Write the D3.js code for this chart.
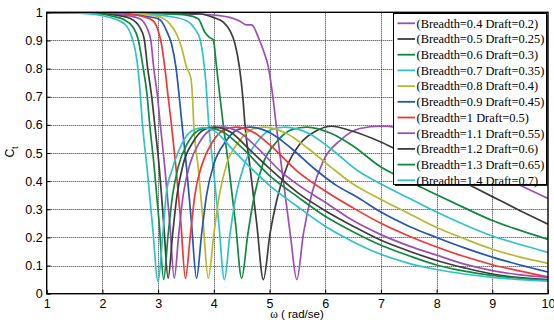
<!DOCTYPE html>
<html><head><meta charset="utf-8">
<script src="https://cdn.jsdelivr.net/npm/d3@7"></script>
<style>body{margin:0;background:#fff}svg{display:block;overflow:visible}</style>
</head><body><svg id="c" width="554" height="324"></svg>
<script>
const xTicks=[1,2,3,4,5,6,7,8,9,10];
const yTicks=[0,0.1,0.2,0.3,0.4,0.5,0.6,0.7,0.8,0.9,1];
const yTickLabels=["0","0.1","0.2","0.3","0.4","0.5","0.6","0.7","0.8","0.9","1"];
const breadths=[0.4,0.5,0.6,0.7,0.8,0.9,1,1.1,1.2,1.3,1.4];
const drafts=[0.2,0.25,0.3,0.35,0.4,0.45,0.5,0.55,0.6,0.65,0.7];
const colors=["#9b4fb3","#3d3d3d","#10893f","#2ec3c6","#b7b92e","#2456b2","#f23535","#9b4fb3","#3d3d3d","#10893f","#2ec3c6"];

// [omega, Ct] readings per series
const s04=[[1,1],[2,0.999],[3,0.997],[3.75,0.994],[4.11,0.988],[4.29,0.982],[4.47,0.968],[4.59,0.955],[4.68,0.955],[4.8,0.911],[4.89,0.864],[4.98,0.805],[5.06,0.7],[5.12,0.6],[5.25,0.4],[5.38,0.2],[5.49,0.05],[5.61,0.214],[5.76,0.356],[5.97,0.474],[6.27,0.545],[6.62,0.587],[7,0.595],[7.3,0.59],[7.7,0.565],[8,0.54],[8.5,0.485],[9,0.43],[9.62,0.374],[10,0.338]];
const s05=[[1,1],[2,0.999],[3,0.997],[3.75,0.994],[3.99,0.982],[4.17,0.965],[4.29,0.935],[4.38,0.888],[4.46,0.805],[4.52,0.7],[4.56,0.6],[4.65,0.45],[4.77,0.25],[4.89,0.05],[5.01,0.214],[5.13,0.332],[5.31,0.45],[5.55,0.533],[5.85,0.58],[6.12,0.595],[6.45,0.58],[7,0.539],[7.5,0.49],[8,0.445],[8.5,0.395],[9,0.345],[9.5,0.295],[10,0.247]];
const s06=[[1,1],[2,0.999],[3,0.995],[3.51,0.99],[3.72,0.977],[3.84,0.929],[3.92,0.911],[3.99,0.902],[4.05,0.805],[4.11,0.7],[4.17,0.6],[4.27,0.45],[4.39,0.25],[4.5,0.055],[4.61,0.21],[4.73,0.35],[4.88,0.46],[5.13,0.54],[5.4,0.583],[5.67,0.592],[6.1,0.57],[6.5,0.525],[7,0.45],[7.5,0.4],[8,0.352],[8.5,0.305],[9,0.26],[9.5,0.225],[10,0.193]];
const s07=[[1,1],[2,0.999],[2.5,0.997],[3,0.99],[3.21,0.985],[3.51,0.97],[3.66,0.941],[3.75,0.906],[3.81,0.84],[3.86,0.746],[3.91,0.6],[3.99,0.45],[4.09,0.25],[4.19,0.05],[4.29,0.21],[4.4,0.35],[4.55,0.46],[4.78,0.54],[5.03,0.583],[5.28,0.592],[5.7,0.57],[6.1,0.515],[6.6,0.435],[7,0.39],[7.5,0.34],[8,0.29],[8.5,0.245],[9,0.205],[9.5,0.175],[10,0.147]];
const s08=[[1,1],[2,0.999],[2.5,0.996],[3,0.985],[3.21,0.959],[3.33,0.923],[3.42,0.876],[3.51,0.805],[3.59,0.764],[3.62,0.687],[3.64,0.6],[3.72,0.45],[3.81,0.25],[3.9,0.055],[4,0.21],[4.1,0.35],[4.23,0.46],[4.45,0.54],[4.68,0.583],[4.91,0.592],[5.3,0.57],[5.7,0.515],[6.1,0.45],[6.5,0.39],[7,0.335],[7.5,0.285],[8,0.235],[8.5,0.195],[9,0.158],[9.5,0.13],[10,0.108]];
const s09=[[1,1],[2,0.998],[2.5,0.993],[2.8,0.985],[3,0.977],[3.06,0.968],[3.15,0.935],[3.24,0.888],[3.32,0.805],[3.38,0.7],[3.43,0.6],[3.51,0.45],[3.6,0.25],[3.69,0.055],[3.78,0.21],[3.87,0.35],[4,0.46],[4.21,0.54],[4.43,0.583],[4.65,0.592],[5,0.573],[5.4,0.515],[5.8,0.445],[6.2,0.385],[6.6,0.34],[7,0.29],[7.5,0.24],[8,0.2],[8.5,0.163],[9,0.13],[9.5,0.102],[10,0.077]];
const s10=[[1,1],[1.5,0.999],[2,0.997],[2.5,0.992],[2.73,0.985],[2.91,0.97],[3,0.935],[3.06,0.888],[3.12,0.805],[3.18,0.7],[3.24,0.6],[3.32,0.45],[3.41,0.25],[3.49,0.055],[3.58,0.21],[3.66,0.35],[3.79,0.46],[3.98,0.54],[4.19,0.583],[4.4,0.592],[4.7,0.575],[5,0.53],[5.5,0.435],[6,0.365],[6.5,0.305],[7,0.25],[7.5,0.205],[8,0.166],[8.5,0.132],[9,0.103],[9.5,0.08],[10,0.06]];
const s11=[[1,1],[1.5,0.999],[2,0.996],[2.4,0.99],[2.67,0.977],[2.82,0.935],[2.87,0.9],[2.92,0.805],[2.99,0.7],[3.04,0.6],[3.12,0.45],[3.21,0.25],[3.29,0.055],[3.37,0.21],[3.45,0.35],[3.57,0.46],[3.75,0.54],[3.95,0.583],[4.15,0.592],[4.45,0.575],[4.8,0.515],[5.2,0.435],[5.6,0.375],[6,0.325],[6.5,0.26],[7,0.21],[7.5,0.17],[8,0.137],[8.5,0.105],[9,0.082],[9.5,0.067],[10,0.058]];
const s12=[[1,1],[1.5,0.999],[2,0.995],[2.3,0.988],[2.5,0.978],[2.67,0.947],[2.75,0.906],[2.81,0.805],[2.885,0.7],[2.94,0.6],[3.02,0.45],[3.1,0.25],[3.18,0.055],[3.26,0.21],[3.34,0.35],[3.45,0.46],[3.63,0.54],[3.82,0.583],[4,0.592],[4.3,0.575],[4.6,0.52],[5,0.445],[5.5,0.36],[6,0.295],[6.5,0.24],[7,0.19],[7.5,0.152],[8,0.118],[8.5,0.092],[9,0.07],[9.5,0.057],[10,0.05]];
const s13=[[1,1],[1.5,0.999],[2,0.993],[2.2,0.985],[2.375,0.975],[2.55,0.947],[2.64,0.906],[2.73,0.805],[2.8,0.71],[2.85,0.6],[2.93,0.45],[3.02,0.25],[3.1,0.05],[3.18,0.21],[3.26,0.35],[3.36,0.45],[3.53,0.535],[3.72,0.58],[3.9,0.59],[4.2,0.57],[4.5,0.52],[5,0.42],[5.5,0.345],[6,0.275],[6.5,0.22],[7,0.172],[7.5,0.135],[8,0.102],[8.5,0.08],[9,0.065],[9.5,0.055],[10,0.048]];
const s14=[[1,1],[1.5,0.998],[2,0.988],[2.2,0.978],[2.32,0.968],[2.44,0.95],[2.53,0.911],[2.62,0.829],[2.67,0.734],[2.72,0.6],[2.8,0.45],[2.9,0.24],[3,0.043],[3.08,0.2],[3.15,0.36],[3.25,0.44],[3.42,0.53],[3.6,0.578],[3.8,0.59],[4,0.58],[4.35,0.51],[4.7,0.44],[5,0.385],[5.5,0.31],[6,0.24],[6.5,0.185],[7,0.14],[7.5,0.108],[8,0.086],[8.5,0.07],[9,0.058],[9.5,0.05],[10,0.045]];
const seriesData=[s04,s05,s06,s07,s08,s09,s10,s11,s12,s13,s14];

const svg=d3.select("#c");
const x=d3.scaleLinear().domain([1,10]).range([46.7,548]);
const y=d3.scaleLinear().domain([0,1]).range([293.7,12.3]);

svg.append("defs").append("clipPath").attr("id","clip").append("rect")
  .attr("x",x(1)).attr("y",y(1)).attr("width",x(10)-x(1)).attr("height",y(0)-y(1));

// grid
const grid=svg.append("g").attr("stroke","#000").attr("stroke-width",1).attr("stroke-dasharray","1,1").attr("opacity",0.8);
grid.selectAll("line.v").data(xTicks.slice(1,-1)).join("line").attr("class","v")
  .attr("x1",d=>Math.round(x(d))+0.5).attr("x2",d=>Math.round(x(d))+0.5).attr("y1",y(0)).attr("y2",y(1));
grid.selectAll("line.h").data(yTicks.slice(1,-1)).join("line").attr("class","h")
  .attr("x1",x(1)).attr("x2",x(10)).attr("y1",d=>Math.round(y(d))+0.5).attr("y2",d=>Math.round(y(d))+0.5);

// curves
const line=d3.line().x(d=>x(d[0])).y(d=>y(d[1])).curve(d3.curveMonotoneX);
svg.append("g").attr("clip-path","url(#clip)").selectAll("path").data(seriesData).join("path")
  .attr("d",line).attr("fill","none").attr("stroke",(d,i)=>colors[i]).attr("stroke-width",1.7)
  .attr("stroke-linejoin","round");

// axes
const xa=svg.append("g").attr("transform",`translate(0,${y(0)})`)
  .call(d3.axisBottom(x).tickValues(xTicks).tickFormat(d3.format("d")).tickSizeInner(-4).tickSizeOuter(0).tickPadding(5));
const ya=svg.append("g").attr("transform",`translate(${x(1)},0)`)
  .call(d3.axisLeft(y).tickValues(yTicks).tickFormat((d,i)=>yTickLabels[i]).tickSizeInner(-4).tickSizeOuter(0).tickPadding(4));
[xa,ya].forEach(a=>{a.select(".domain").remove();a.selectAll("text").attr("font-family","Liberation Sans, Arial, sans-serif").attr("font-size",12.5).attr("fill","#000");a.selectAll("line").attr("stroke","#000");});
// box
svg.append("rect").attr("x",x(1)).attr("y",y(1)).attr("width",x(10)-x(1)).attr("height",y(0)-y(1))
  .attr("fill","none").attr("stroke","#000").attr("stroke-width",1.4);

// axis labels
const xl=svg.append("text").attr("x",297).attr("y",318).attr("text-anchor","middle")
  .attr("font-family","Liberation Sans, Arial, sans-serif").attr("font-size",11.5);
xl.append("tspan").attr("font-family","Liberation Serif, Times New Roman, serif").text("ω");
xl.append("tspan").text(" ( rad/se)");
const yl=svg.append("text").attr("transform","translate(14,152) rotate(-90)").attr("text-anchor","middle")
  .attr("font-family","Liberation Sans, Arial, sans-serif").attr("font-size",12);
yl.append("tspan").text("C");
yl.append("tspan").attr("font-size",9).attr("dy",4).text("t");

// legend
const lg=svg.append("g");
lg.append("rect").attr("x",395).attr("y",15).attr("width",153).attr("height",171).attr("fill","#222");
lg.append("rect").attr("x",393.5).attr("y",13.5).attr("width",153).attr("height",171).attr("fill","#fff").attr("stroke","#000").attr("stroke-width",1);
const ent=lg.selectAll("g.e").data(breadths).join("g").attr("class","e")
  .attr("transform",(d,i)=>`translate(0,${23.3+i*15.7})`);
ent.append("line").attr("x1",397.5).attr("x2",415).attr("stroke",(d,i)=>colors[i]).attr("stroke-width",1.8);
ent.append("text").attr("x",416.5).attr("dy","0.35em").attr("font-family","Liberation Serif, Times New Roman, serif")
  .attr("font-size",12.4).attr("fill","#000").text((d,i)=>`(Breadth=${d} Draft=${drafts[i]})`);
</script></body></html>
